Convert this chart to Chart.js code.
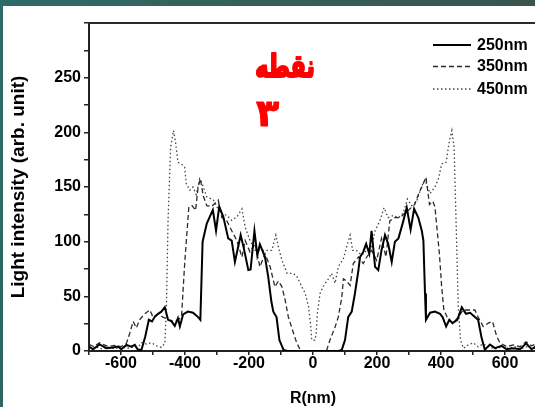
<!DOCTYPE html>
<html>
<head>
<meta charset="utf-8">
<script src="https://cdn.jsdelivr.net/npm/chart.js@4.4.1/dist/chart.umd.min.js"></script>
<style>
  html, body { margin: 0; padding: 0; overflow: hidden; background: #fff; }
  #wrap { position: relative; width: 535px; height: 407px; overflow: hidden; }
  #topbar { position: absolute; left: 0; top: 0; width: 535px; height: 6px;
            background: linear-gradient(90deg, #2e6c67 0%, #365f59 50%, #3a544e 100%); z-index: 2; }
  #leftbar { position: absolute; left: 0; top: 0; width: 3px; height: 407px;
             background: linear-gradient(180deg, #2e6c67 0%, #2f6661 100%); z-index: 2; }
  canvas { position: absolute; left: 0; top: 0; }
</style>
</head>
<body>
<div id="wrap">
  <div id="topbar"></div>
  <div id="leftbar"></div>
  <canvas id="c" width="545" height="407"></canvas>
</div>
<script>
// Radial light-intensity profiles for three wavelengths
const seriesLabels = ['250nm', '350nm', '450nm'];

const r250 = [-700,-687,-667,-646,-625,-609,-599,-583,-568,-557,-547,-536,-524,-513,-503,-495,-484,-474,-463,-453,-443,-432,-422,-416,-406,-391,-375,-359,-352,-345,-332,-313,-303,-293,-280,-265,-254,-244,-226,-217,-202,-195,-183,-174,-166,-150,-140,-130,-124,-114,-105,-92,-80,0,80,90,100,110,121,131,142,147,157,166,176,183,194,204,214,225,235,246,256,267,280,293,305,316,329,340,345,350,353,366,381,397,405,416,426,436,451,465,478,491,506,516,527,537,553,569,589,605,626,647,666,683,700];
const i250 = [4,1.6,6,2.6,3.2,4,1.6,5.6,4,5.6,1.2,1.2,13.5,28.5,27,31,34,36,40,28.5,27.5,23,30,22.5,33.5,36,35,31,28.5,100,116.5,129,110,132,122.5,103,101,81.5,106,95,74,74.5,110,87.5,97.5,86,68,45,36,31,10,1,0,0,0,1,10,31,36,52.6,74,86,90.6,98,89,110,77,74,92,106,98,81.5,100,103,116.5,131,111,130,122,110,101,52.6,28.5,35,36,34,31,22.4,28.5,25.5,28.5,40,34,35,31,28.5,11.8,1.2,5.8,2.6,4.7,1.6,2.6,1.6,7,1.6,5];

const r350 = [-700,-685,-667,-640,-620,-599,-583,-573,-562,-552,-542,-526,-510,-500,-484,-469,-453,-438,-422,-411,-401,-388,-378,-367,-359,-352,-343,-332,-317,-296,-285,-269,-254,-238,-222,-212,-197,-181,-166,-150,-134,-119,-108,-97,-87,-77,-66,-51,-40,-30,30,43,53,69,79,90,95,105,116,126,142,157,168,183,199,214,228,240,256,272,287,303,318,329,340,353,364,374,381,386,395,402,409,423,438,454,469,491,506,516,532,548,561,574,584,605,626,647,666,683,700];
const i350 = [6,4,7.5,4,5,4,7,16,27,21,28.5,34,37.5,31,34,31,28.5,27,28.5,31,80,131.7,133,128.6,150,157.5,142,133,132,138,122,119,110,101,86,101,90.6,98,77,89,77,58.7,64,58.7,46.5,31,21,7.6,1,0,0,1,10,22,31,49,66,64,60,80,86,80,86,92,83,103,86,119,122,122,126,130,134,143,150,159,134,137,132,116.5,89,59,37.5,28.5,25.5,31,37.5,37.5,37.5,31,22.4,25.5,27,13.5,7.5,4,5.5,4,8.5,4.7,7];

const r450 = [-700,-680,-660,-640,-620,-600,-580,-560,-545,-536,-521,-505,-489,-474,-463,-458,-453,-445,-436,-430,-422,-411,-401,-396,-385,-375,-365,-354,-346,-343,-332,-311,-290,-269,-254,-238,-222,-212,-197,-181,-166,-145,-129,-116,-108,-97,-81,-61,-50,-35,-24,-14,-7,-4,6,10,13.5,22,32,48,58,69,79,95,105,116,124,136,152,168,183,194,209,222,235,251,267,282,295,308,324,340,350,366,381,392,402,416,426,434,441,447,454,461,470,485,501,516,532,553,570,590,610,630,650,670,690,700];
const i450 = [2.6,4,2,3.5,2,4,2.5,3.5,4,7.6,6.4,7.6,4.7,3.3,7,40.5,119.5,186,201.6,192,172.6,171,168,153,147,150,143,157.5,153,150,141,138,126,124,119.5,122.6,130,113.5,101,92,92,92,92,106,95,83,71,71,68,58.7,52.6,40.5,22.4,10,10,16,34,52.6,59,66,71,62,77,84.5,95,106,92,92,87.6,92,95,110,119,131,122,124,122,126,139,133,137,151,156,144,150,157.5,171,172.6,192,201.6,186,119.5,40.5,10,2.5,5.5,7.6,3.9,6.4,3.3,2,4,2.5,4,2,4,2.5,3];

// Axis tick labels
const xTickLabels = [-600, -400, -200, 0, 200, 400, 600];
const yTickLabels = [0, 50, 100, 150, 200, 250];

const toPoints = (xs, ys) => xs.map((x, k) => ({ x: x, y: ys[k] }));

const FONT = '"Liberation Sans", Arial, sans-serif';
Chart.defaults.font.family = FONT;
Chart.defaults.color = '#000';

// Plot frame, inset legend and annotation text
const decorations = {
  id: 'decorations',
  afterDatasetsDraw(chart) {
    const { ctx, chartArea: a } = chart;
    ctx.save();
    ctx.strokeStyle = '#2a2a2a';
    ctx.lineWidth = 2;
    ctx.beginPath();
    ctx.moveTo(a.left - 1, a.top);
    ctx.lineTo(a.right, a.top);
    ctx.lineTo(a.right, a.bottom);
    ctx.stroke();
    ctx.restore();
  },
  afterDraw(chart) {
    const { ctx } = chart;
    ctx.save();
    // legend
    const rows = [45, 66.5, 89];
    chart.data.datasets.forEach((ds, k) => {
      const y = rows[k];
      ctx.strokeStyle = ds.borderColor;
      ctx.lineWidth = ds.borderWidth;
      ctx.setLineDash(ds.borderDash || []);
      ctx.beginPath();
      ctx.moveTo(433, y);
      ctx.lineTo(471, y);
      ctx.stroke();
      ctx.setLineDash([]);
      ctx.fillStyle = '#000';
      ctx.font = 'bold 16px ' + FONT;
      ctx.textAlign = 'left';
      ctx.textBaseline = 'middle';
      ctx.fillText(ds.label, 477, y + 0.5);
    });
    // red label
    ctx.fillStyle = '#ff0000';
    ctx.strokeStyle = '#ff0000';
    ctx.lineJoin = 'round';
    ctx.font = 'bold 31px "DejaVu Sans"';
    ctx.textBaseline = 'alphabetic';
    ctx.textAlign = 'center';
    ctx.save();
    ctx.translate(285, 77);
    ctx.scale(0.72, 1);
    ctx.lineWidth = 2.2;
    ctx.fillText('نقطه', 0, 0);
    ctx.strokeText('نقطه', 0, 0);
    ctx.restore();
    ctx.font = 'bold 38px "DejaVu Sans"';
    ctx.textAlign = 'left';
    ctx.lineWidth = 1;
    ctx.fillText('۳', 256, 126);
    ctx.strokeText('۳', 256, 126);
    ctx.restore();
  }
};

new Chart(document.getElementById('c'), {
  type: 'line',
  data: {
    datasets: [
      { label: seriesLabels[0], data: toPoints(r250, i250), borderColor: '#000000', borderWidth: 2, borderDash: [] },
      { label: seriesLabels[1], data: toPoints(r350, i350), borderColor: '#2b2b2b', borderWidth: 1.3, borderDash: [5, 3] },
      { label: seriesLabels[2], data: toPoints(r450, i450), borderColor: '#444444', borderWidth: 1.3, borderDash: [1.5, 2.5] }
    ]
  },
  options: {
    responsive: false,
    animation: false,
    devicePixelRatio: 1,
    elements: { point: { radius: 0 }, line: { tension: 0, fill: false } },
    layout: { padding: { left: 0, right: 8, top: 23, bottom: 0 } },
    plugins: { legend: { display: false }, tooltip: { enabled: false } },
    scales: {
      x: {
        type: 'linear',
        min: -700, max: 700,
        ticks: {
          stepSize: 100,
          autoSkip: false,
          maxRotation: 0,
          padding: -1,
          font: { size: 16, weight: 'bold' },
          callback: v => xTickLabels.includes(v) ? String(v) : ''
        },
        grid: { display: true, drawOnChartArea: false, drawTicks: true, tickLength: 4, color: '#222', lineWidth: 1.5 },
        border: { display: true, color: '#222', width: 2 },
        title: { display: true, text: 'R(nm)', font: { size: 16, weight: 'bold', lineHeight: 1 }, padding: 0, color: '#000' },
        afterFit: s => { s.height = 56; }
      },
      y: {
        min: 0, max: 300,
        ticks: {
          stepSize: 25,
          autoSkip: false,
          padding: 3,
          font: { size: 16, weight: 'bold' },
          callback: v => yTickLabels.includes(v) ? String(v) : ''
        },
        grid: { display: true, drawOnChartArea: false, drawTicks: true, tickLength: 5, color: '#222', lineWidth: 1.5 },
        border: { display: true, color: '#222', width: 2 },
        title: { display: true, text: 'Light intensity (arb. unit)', font: { size: 19, weight: 'bold' }, padding: { top: 7, bottom: 0 }, color: '#000' },
        afterFit: s => { s.width = 89; }
      }
    }
  },
  plugins: [decorations]
});
</script>
</body>
</html>
